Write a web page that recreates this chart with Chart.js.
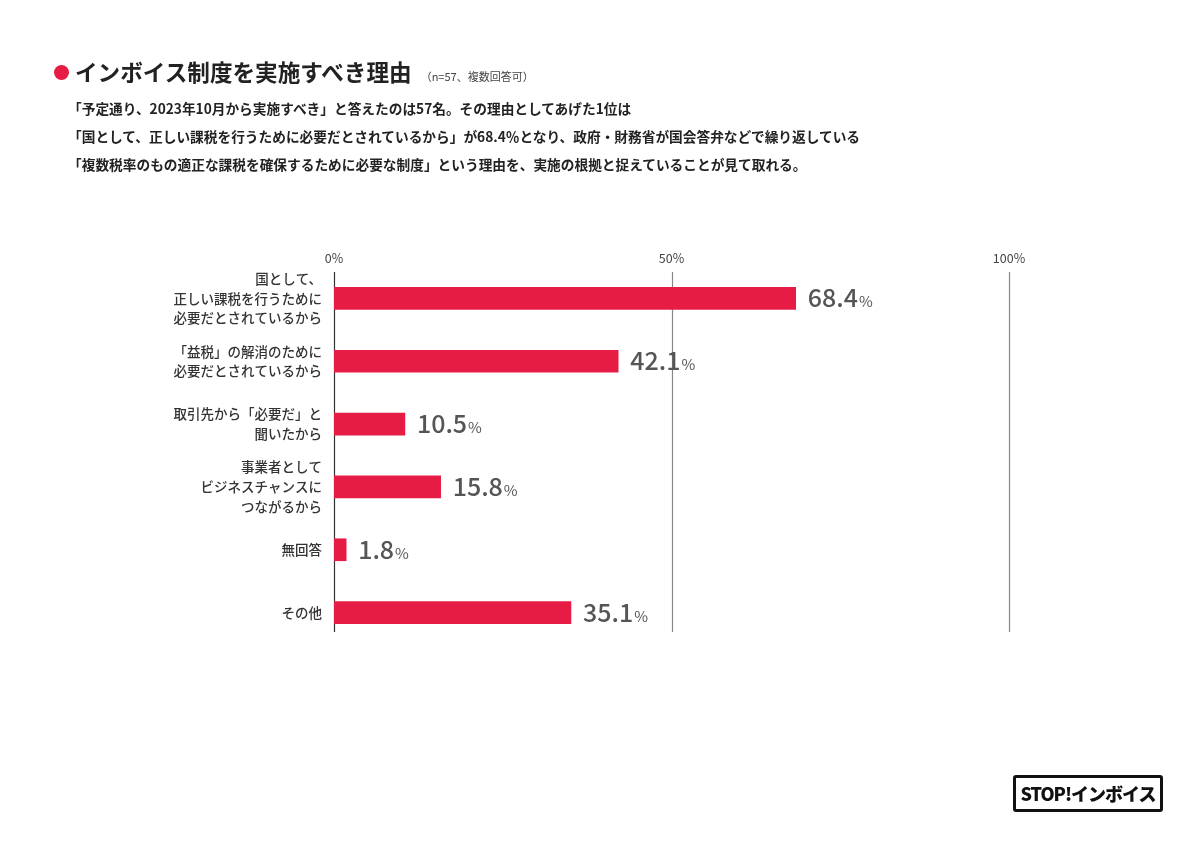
<!DOCTYPE html>
<html>
<head>
  <meta charset="UTF-8">
  <title>インボイス制度を実施すべき理由</title>
  <script src="https://cdn.jsdelivr.net/npm/chart.js"></script>
  <style>
    body { margin: 0; background: #fff; font-family: "Noto Sans CJK JP", "Noto Sans", sans-serif; color: #222; }
    #wrap { position: relative; width: 1200px; height: 849px; overflow: hidden; }
    #chart { position: absolute; left: 0; top: 0; }
    .title { position: absolute; left: 54px; top: 55px; font-size: 22.6px; font-weight: 700; color: #222; white-space: nowrap; }
    .title .dot { display: inline-block; width: 15px; height: 15px; border-radius: 50%; background: #e61c45; margin-right: 6px; vertical-align: 1px; }
    .title .note { font-size: 11px; font-weight: 400; color: #444; margin-left: 9px; }
    .lead { position: absolute; left: 68px; top: 94px; font-size: 13.7px; font-weight: 700; line-height: 28px; color: #222; white-space: nowrap; }
    .logo { position: absolute; left: 1013px; top: 775px; width: 144px; height: 31px; border: 3px solid #111; border-radius: 3px; text-align: center; font-size: 18px; font-weight: 900; line-height: 31px; color: #111; letter-spacing: -1px; }
  </style>
</head>
<body>
<div id="wrap">
  <canvas id="chart" width="1200" height="849"></canvas>
  <div class="title"><span class="dot"></span>インボイス制度を実施すべき理由<span class="note">（n=57、複数回答可）</span></div>
  <div class="lead">
    「予定通り、2023年10月から実施すべき」と答えたのは57名。その理由としてあげた1位は<br>
    「国として、正しい課税を行うために必要だとされているから」が68.4％となり、政府・財務省が国会答弁などで繰り返している<br>
    「複数税率のもの適正な課税を確保するために必要な制度」という理由を、実施の根拠と捉えていることが見て取れる。
  </div>
  <div class="logo">STOP!インボイス</div>
</div>
<script>
  const categories = [
    ['国として、', '正しい課税を行うために', '必要だとされているから'],
    ['「益税」の解消のために', '必要だとされているから'],
    ['取引先から「必要だ」と', '聞いたから'],
    ['事業者として', 'ビジネスチャンスに', 'つながるから'],
    ['無回答'],
    ['その他']
  ];
  const percents = [68.4, 42.1, 10.5, 15.8, 1.8, 35.1];
  const axisTicks = [0, 50, 100];

  const FONT = '"Noto Sans CJK JP", "Noto Sans", sans-serif';

  // vertical grid lines, drawn a bit shorter than the category band
  const gridLines = {
    id: 'gridLines',
    beforeDatasetsDraw(chart) {
      const ctx = chart.ctx;
      const xs = chart.scales.x;
      const area = chart.chartArea;
      ctx.save();
      axisTicks.forEach(v => {
        const x = Math.round(xs.getPixelForValue(v)) + 0.5;
        ctx.strokeStyle = v === 0 ? '#333' : '#888';
        ctx.lineWidth = 1.2;
        ctx.beginPath();
        ctx.moveTo(x, area.top + 5);
        ctx.lineTo(x, area.bottom - 12);
        ctx.stroke();
      });
      ctx.restore();
    }
  };

  // value labels: big number + small %
  const valueLabels = {
    id: 'valueLabels',
    afterDatasetsDraw(chart) {
      const ctx = chart.ctx;
      const meta = chart.getDatasetMeta(0);
      ctx.save();
      ctx.fillStyle = '#555';
      ctx.textBaseline = 'alphabetic';
      meta.data.forEach((bar, i) => {
        const num = percents[i].toFixed(1);
        const x = bar.x + 12;
        const y = bar.y + 9;
        ctx.font = '500 25px ' + FONT;
        ctx.fillText(num, x, y);
        const w = ctx.measureText(num).width;
        ctx.font = '400 15px ' + FONT;
        ctx.fillText('%', x + w + 1, y);
      });
      ctx.restore();
    }
  };

  new Chart(document.getElementById('chart'), {
    type: 'bar',
    data: {
      labels: categories,
      datasets: [{
        data: percents,
        backgroundColor: '#e61c45',
        barThickness: 22
      }]
    },
    options: {
      indexAxis: 'y',
      responsive: false,
      animation: false,
      layout: { padding: { left: 34, top: 245, right: 191, bottom: 205 } },
      plugins: { legend: { display: false }, tooltip: { enabled: false } },
      scales: {
        x: {
          position: 'top',
          min: 0,
          max: 100,
          afterBuildTicks(scale) { scale.ticks = axisTicks.map(v => ({ value: v })); },
          afterFit(scale) { scale.height = 22; },
          grid: { display: false, drawTicks: false },
          border: { display: false },
          ticks: {
            padding: 1,
            color: '#444',
            font: { family: FONT, size: 12.5 },
            callback: v => v + '%'
          }
        },
        y: {
          afterFit(scale) { scale.width = 300; },
          grid: { display: false, drawTicks: false },
          border: { display: false },
          ticks: {
            padding: 12,
            color: '#333',
            font: { family: FONT, size: 13.5, weight: '500', lineHeight: 1.45 }
          }
        }
      }
    },
    plugins: [gridLines, valueLabels]
  });
</script>
</body>
</html>
